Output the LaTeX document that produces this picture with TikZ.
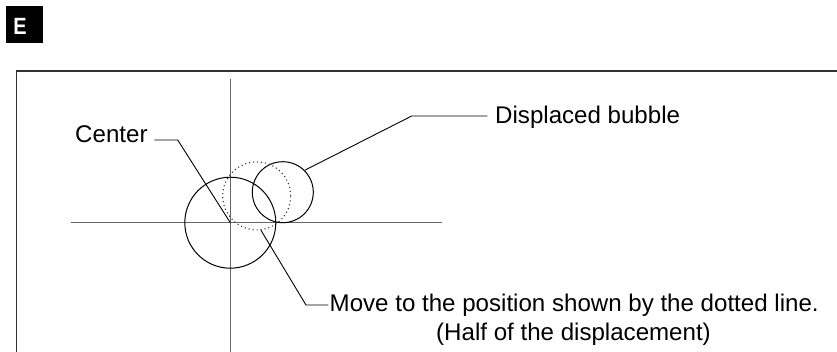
\documentclass[tikz,border=0pt]{standalone}
\usepackage{fontspec}
\setmainfont{Liberation Sans}
\begin{document}
\begin{tikzpicture}[x=1pt,y=-1pt,
  lbl/.style={inner sep=0pt,font=\fontsize{24.1}{28.3}\selectfont},
  axis/.style={draw=black!60,line width=1.4pt},
  ring/.style={draw=black,line width=1pt,circle,inner sep=0pt,minimum size=#1},
  dotring/.style={draw=black!80,line width=1.1pt,circle,inner sep=0pt,minimum size=#1,dash pattern=on 1.1pt off 2.9pt},
  leader/.style={draw=black,line width=0.9pt},
  frame/.style={draw=black!80,line width=1.1pt}]
\useasboundingbox (0,0) rectangle (837,352);
% label box E
\fill[black] (6,6) rectangle (42.7,42.7);
\node[lbl,anchor=base west,text=white,font=\fontsize{23.5}{28}\selectfont\bfseries] (tag) at (13.2,35) {\scalebox{0.85}[1]{E}};
% frame
\coordinate (f1) at (16.5,352);
\coordinate (f2) at (16.5,71);
\coordinate (f3) at (837,71);
\draw[frame] (f1) -- (f2) -- (f3);
% axes
\coordinate (O) at (230.3,222.7);
\coordinate (vt) at (230.3,79);
\coordinate (vb) at (230.3,352);
\coordinate (hl) at (71,222.7);
\coordinate (hr) at (441.7,222.7);
\draw[axis] (vt) -- (vb);
\draw[axis] (hl) -- (hr);
% circles
\node[ring=91pt] (bigc) at (O) {};
\node[ring=61pt] (bub) at (282.8,192.2) {};
\node[dotring=68pt] (half) at (256.7,195.9) {};
% labels
\node[lbl,anchor=base west] (ctr) at (75,142.7) {Center};
\node[lbl,anchor=base west] (disp) at (495,123.3) {Displaced bubble};
\node[lbl,anchor=base west] (move) at (329.5,311.7) {Move to the position shown by the dotted line.};
\node[lbl,anchor=base] (halfl) at (573.5,340) {(Half of the displacement)};
% leaders
\coordinate (c1) at (154.3,140);
\coordinate (c2) at (177.7,140);
\draw[leader] (c1) -- (c2) -- (O);
\coordinate (d1) at (487.3,116);
\coordinate (d2) at (411.7,116);
\draw[leader] (d1) -- (d2) -- (bub.45);
\coordinate (m1) at (328.3,305);
\coordinate (m2) at (306,305);
\draw[leader] (m1) -- (m2) -- (half.-83);
\end{tikzpicture}
\end{document}
